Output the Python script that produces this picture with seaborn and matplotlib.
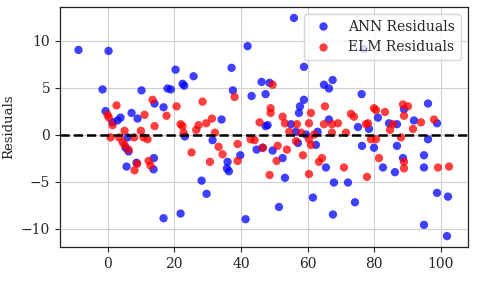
import numpy as np
import pandas as pd
import matplotlib
matplotlib.use("Agg")
import matplotlib.pyplot as plt
import seaborn as sns

# ANN residuals (x position, residual)
ann_x = [-8.7, 0.3, -1.5, -0.6, 1.5, 3.0, 3.9, 7.2, 9.0, 10.2, 14.1, 16.8, 18.0, 19.0,
         20.4, 22.5, 23.0, 25.8, 34.2, 37.2, 37.6, 6.0, 23.2, 31.5, 5.4, 6.3, 5.7, 8.7,
         13.9, 13.8, 16.8, 21.9, 28.2, 29.7, 36.0, 35.8, 36.4, 39.8, 42.0, 43.2, 46.2,
         47.4, 47.4, 44.7, 41.4, 46.5, 48.6, 55.9, 58.9, 64.9, 67.5, 66.4, 76.2, 58.9,
         57.7, 57.4, 48.0, 55.0, 66.4, 75.1, 76.9, 96.1, 81.1, 84.4, 86.8, 91.9, 88.9,
         98.8, 49.5, 52.5, 53.2, 51.4, 61.6, 57.1, 62.5, 65.5, 67.9, 72.1, 67.6, 74.2,
         76.3, 79.9, 82.6, 86.2, 86.8, 88.6, 94.9, 94.9, 96.1, 98.8, 102.1, 94.9, 101.8,
         78.4, 56.5, 59.5, 63.0]
ann_res = [9.0, 8.9, 4.8, 2.5, 1.3, 1.5, 1.8, 2.3, 1.7, 4.7, 3.3, 2.9, 4.9, 4.8,
           6.9, 5.4, 5.2, 6.2, 1.6, 7.1, 4.7, -0.3, -0.2, -0.6, -1.4, -1.8, -3.4, -3.0,
           -2.5, -3.7, -8.9, -8.4, -4.9, -6.3, -2.9, -3.6, -3.9, -2.2, 9.4, 4.1, 5.6,
           4.3, 0.9, -1.6, -9.0, -1.4, 5.5, 12.4, 7.2, 5.3, 5.8, 4.9, 4.3, 3.7,
           3.0, 2.3, 1.0, 1.1, 1.6, 0.8, 9.1, 3.3, 1.8, 1.2, 1.1, 1.5, 2.7,
           1.2, -1.7, -2.5, -4.6, -7.7, -6.7, -0.9, -1.1, -3.5, -5.1, -5.1, -8.5, -7.2,
           -1.2, -1.4, -3.5, -4.0, -1.2, -2.5, -2.2, -3.5, -0.5, -6.2, -6.6, -9.6, -10.8,
           0.6, 0.3, 0.0, 0.3]

# ELM residuals (x position, residual)
elm_x = [0.0, 0.4, 1.5, 2.7, 5.1, 10.0, 11.1, 13.5, 14.1, 17.7, 20.7, 21.9, 22.5, 22.8,
         26.6, 27.3, 28.5, 29.6, 31.3, 32.2, 38.1, 0.9, 3.5, 8.0, 10.8, 12.0, 4.5, 5.1,
         6.3, 8.1, 8.9, 12.3, 12.9, 25.2, 30.7, 33.3, 34.5, 39.0, 39.0, 45.6, 42.9, 44.1,
         46.6, 49.5, 48.9, 48.9, 52.5, 53.2, 56.8, 61.0, 60.4, 65.2, 64.9, 67.3, 69.1,
         73.0, 73.9, 77.5, 79.9, 80.5, 83.2, 78.1, 88.6, 90.1, 88.9, 85.6, 94.0, 97.9,
         91.6, 51.0, 50.7, 48.6, 53.8, 56.5, 58.6, 60.4, 61.0, 60.4, 63.4, 64.3, 70.9,
         67.3, 71.5, 77.8, 79.0, 80.5, 81.4, 88.0, 88.9, 88.9, 99.1, 102.4, 84.7, 54.5,
         58.0, 62.0]
elm_res = [2.1, 1.8, 1.0, 3.1, 0.4, 0.4, 2.1, 3.7, 0.9, 2.0, 3.0, 1.1, 0.9, 0.2,
           0.5, 1.0, 3.5, 1.2, 1.7, 0.2, 4.0, -0.3, -0.3, -0.3, -0.3, -0.5, -0.8, -1.1,
           -1.6, -3.8, -3.1, -2.8, -3.3, -1.9, -2.9, -1.3, -2.1, -2.8, -1.0, 1.3, -0.5, -0.6,
           -1.4, 5.3, 2.8, 2.3, 1.9, 1.2, 1.1, 2.3, 1.2, 3.0, 1.1, 1.1, 1.2,
           2.2, 1.9, 1.1, 2.8, 2.6, 2.4, 1.2, 3.2, 3.0, 2.0, 1.1, 1.3, 1.6,
           0.6, -1.2, -2.8, -4.3, -1.6, -0.7, -2.2, -0.5, -1.1, -4.2, -2.9, -2.5, -3.5,
           0.2, 0.2, -4.5, -0.5, -0.5, -2.5, -0.3, -2.9, -3.6, -3.5, -3.4, 0.5, 0.3,
           0.2, 0.0]

df = pd.concat([
    pd.DataFrame({"x": ann_x, "res": ann_res, "model": "ANN Residuals"}),
    pd.DataFrame({"x": elm_x, "res": elm_res, "model": "ELM Residuals"}),
], ignore_index=True)

sns.set_style("ticks", {"axes.grid": True, "grid.color": "#cfcfcf", "axes.edgecolor": "#222222"})
plt.rcParams["font.family"] = ["DejaVu Serif"]
plt.rcParams["font.size"] = 10

fig = plt.figure(figsize=(4.8, 2.82), dpi=100)
ax = fig.add_axes([0.125, 0.124, 0.849, 0.851])

sns.scatterplot(
    data=df, x="x", y="res", hue="model",
    palette={"ANN Residuals": "blue", "ELM Residuals": "red"},
    s=36, alpha=0.75, edgecolor="none", ax=ax,
)
ax.axhline(0, color="black", linestyle="--", lw=1.8)

ax.set_xlabel("")
ax.set_ylabel("Residuals", fontsize=9.5)
ax.set_yticks([-10, -5, 0, 5, 10])
ax.set_xticks([0, 20, 40, 60, 80, 100])
ax.tick_params(labelsize=10, length=3.5, width=0.8)
ax.grid(True, lw=0.8)
for sp in ax.spines.values():
    sp.set_linewidth(0.9)

ax.legend(loc="upper right", fontsize=10, framealpha=0.8)

fig.savefig("out.png", dpi=100)
